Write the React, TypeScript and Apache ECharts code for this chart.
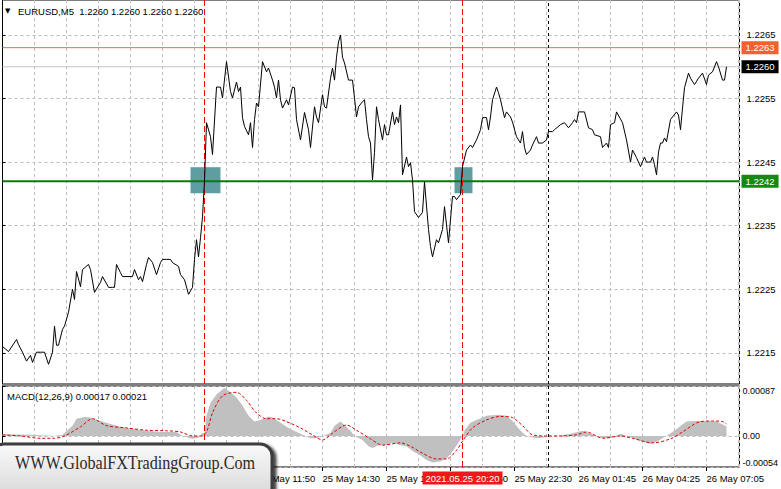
import React, { useEffect, useRef } from 'react';
import * as echarts from 'echarts';

// ---------- data ----------
const symbolName = 'EURUSD,M5';
const lastQuote = [1.226, 1.226, 1.226, 1.226];

// bar number (5-minute bars from the left edge) and close price
const priceBars = [
  0, 3, 7, 8, 10, 12, 14, 15, 17, 19, 21, 23, 25, 26, 27, 28, 30, 31, 33, 35, 36, 37, 39, 40, 43, 44, 46, 49, 50, 53,
  55, 56, 57, 59, 60, 65, 66, 68, 69, 70, 72, 73, 75, 77, 79, 80, 82, 84, 85, 88, 89, 91, 93, 95, 96, 97, 98, 99, 100, 101,
  102, 104, 105, 107, 109, 110, 112, 114, 115, 117, 118, 119, 120, 121, 123, 124, 125, 126, 127, 128, 130, 132, 133, 135, 136, 137, 138, 139, 140, 142,
  143, 145, 146, 147, 149, 151, 153, 154, 156, 157, 158, 160, 161, 162, 164, 165, 166, 167, 168, 169, 170, 171, 173, 175, 176, 177, 178, 180, 181, 182,
  183, 184, 185, 186, 187, 188, 190, 191, 192, 193, 195, 196, 197, 198, 199, 200, 202, 203, 204, 205, 206, 208, 210, 211, 213, 214, 215, 217, 218, 220,
  221, 223, 225, 226, 227, 229, 230, 232, 234, 235, 237, 239, 240, 242, 243, 244, 245, 247, 248, 249, 251, 252, 254, 255, 257, 259, 260, 261, 262, 264,
  265, 267, 268, 270, 272, 273, 275, 276, 279, 281, 283, 285, 286, 287, 288, 291, 293, 295, 296, 299, 300, 302, 303, 304, 306, 307, 310, 312, 314, 315,
  317, 319, 321, 322, 324, 325, 326, 327, 328, 329, 330, 331, 332, 334, 335, 337, 338, 339, 340, 341, 343, 344, 346, 348, 350, 352, 353, 355, 357, 358,
  360, 361, 362,
];
const priceClose = [
  1.2216, 1.22152, 1.22171, 1.22163, 1.22151, 1.22137, 1.22146, 1.22135, 1.22151, 1.22151, 1.22151, 1.22132, 1.22151, 1.22192, 1.22162, 1.22162, 1.22187, 1.22192, 1.22214, 1.2225, 1.22234, 1.22278, 1.22254, 1.22281, 1.22289, 1.22281, 1.22245, 1.22261, 1.2227, 1.22253,
  1.22253, 1.22253, 1.22289, 1.22276, 1.2227, 1.2227, 1.22281, 1.22265, 1.2227, 1.22262, 1.22289, 1.223, 1.22292, 1.22273, 1.22292, 1.22297, 1.22297, 1.22297, 1.22292, 1.22286, 1.22273, 1.22265, 1.22242, 1.22253, 1.22297, 1.22328, 1.22301, 1.22331, 1.22364, 1.2242,
  1.22512, 1.2249, 1.22462, 1.22568, 1.22568, 1.22551, 1.22608, 1.22561, 1.22551, 1.22576, 1.22561, 1.22568, 1.2252, 1.22506, 1.22493, 1.22512, 1.22473, 1.22517, 1.22543, 1.22537, 1.22608, 1.22592, 1.22598, 1.22579, 1.22568, 1.22551, 1.22579, 1.22548, 1.22535, 1.22548,
  1.2254, 1.22568, 1.22567, 1.22517, 1.22485, 1.22528, 1.22501, 1.22473, 1.22537, 1.22521, 1.22512, 1.22556, 1.22537, 1.22535, 1.22582, 1.22598, 1.22579, 1.22615, 1.22639, 1.2265, 1.22615, 1.22606, 1.22579, 1.22579, 1.22551, 1.22521, 1.22537, 1.22545, 1.22548, 1.22517,
  1.2249, 1.2248, 1.22422, 1.22465, 1.22537, 1.22517, 1.22485, 1.22509, 1.22493, 1.22493, 1.22529, 1.22509, 1.22521, 1.22512, 1.2254, 1.2243, 1.22458, 1.22443, 1.22449, 1.22422, 1.22372, 1.22363, 1.22371, 1.22419, 1.22344, 1.22317, 1.22301, 1.22328, 1.22323, 1.22344,
  1.2238, 1.22323, 1.22396, 1.22396, 1.22391, 1.22399, 1.22443, 1.22469, 1.22477, 1.22473, 1.22485, 1.22501, 1.2252, 1.2252, 1.22501, 1.22521, 1.22548, 1.22568, 1.22559, 1.22548, 1.2252, 1.22529, 1.22521, 1.22513, 1.2249, 1.2248, 1.22498, 1.22473, 1.22462, 1.22469,
  1.22477, 1.2249, 1.2248, 1.2248, 1.22485, 1.22498, 1.22498, 1.22501, 1.22509, 1.22512, 1.22504, 1.22512, 1.22517, 1.22512, 1.22529, 1.22529, 1.22504, 1.22501, 1.22493, 1.2249, 1.22473, 1.2248, 1.22473, 1.22509, 1.22512, 1.22529, 1.22512, 1.22485, 1.2245, 1.22469,
  1.22457, 1.22443, 1.22458, 1.2245, 1.2245, 1.22458, 1.22446, 1.2243, 1.22466, 1.2248, 1.2248, 1.22488, 1.22482, 1.22517, 1.22521, 1.22529, 1.22524, 1.22501, 1.22535, 1.22567, 1.2259, 1.22582, 1.22572, 1.22582, 1.2259, 1.22572, 1.22587, 1.22592, 1.22608, 1.226,
  1.22579, 1.22579, 1.226,
];

// MACD main (histogram) and signal values
const macdBars = [
  0, 15, 26, 30, 35, 37, 41, 44, 49, 54, 59, 65, 72, 79, 87, 90, 95, 98, 100, 101, 102, 104, 107, 111, 114, 117, 120, 123, 126, 129,
  133, 135, 139, 143, 147, 150, 154, 157, 160, 164, 166, 169, 171, 174, 176, 180, 183, 185, 188, 192, 195, 199, 202, 205, 209, 212, 215, 219, 222, 225,
  228, 230, 231, 234, 237, 242, 248, 252, 255, 259, 262, 267, 272, 277, 284, 290, 295, 300, 304, 309, 314, 320, 324, 327, 332, 337, 342, 347, 352, 357,
  362,
];
const macdMain = [
  0.00003, 0.00002, 0, 0.00002, 0.00018, 0.0003, 0.00033, 0.00032, 0.00026, 0.00021, 0.00016, 0.00012, 0.00009, 0.00007, 0.00007, 0, -0.00005, -0.00003, 0.00005, 0.00005, 0.00035, 0.00058, 0.00072, 0.00084, 0.00076, 0.00067, 0.00053, 0.00035, 0.00025, 0.00028,
  0.00034, 0.00032, 0.00023, 0.00014, 0.00007, 0.00002, -0.00004, -0.00004, 0, 0.00005, 0.00018, 0.00025, 0.00019, 0.00009, 0, -0.00007, -0.00018, -0.00021, -0.00016, -0.00016, -0.00012, -0.00016, -0.00018, -0.00026, -0.00034, -0.00042, -0.00046, -0.00044, -0.00039, -0.00027,
  -0.00012, 0, 0.0001, 0.00023, 0.00028, 0.00035, 0.00037, 0.00035, 0.00026, 0.00009, 0, -0.00004, -0.00002, 0, 0.00004, 0.00009, 0.00003, -0.00004, -0.00004, 0.00004, -0.00002, -0.0001, -0.00014, -0.0001, 0, 0.00012, 0.00025, 0.00026, 0.00026, 0.00025,
  0.00017,
];
const signalBars = [
  0, 9, 19, 26, 31, 39, 45, 52, 62, 72, 82, 89, 95, 99, 102, 105, 110, 117, 122, 127, 132, 137, 142, 149, 155, 160, 165, 172, 177, 184,
  190, 199, 204, 210, 217, 222, 227, 230, 235, 242, 249, 255, 260, 265, 272, 279, 287, 292, 300, 309, 315, 325, 334, 340, 349, 355, 360, 362,
];
const macdSignal = [
  0.00002, 0, -0.00004, -0.00004, 0, 0.00016, 0.0003, 0.00018, 0.00014, 0.0001, 0.00009, 0.00007, 0, 0, 0.00007, 0.0004, 0.0007, 0.00076, 0.00062, 0.0004, 0.0003, 0.0003, 0.00025, 0.00014, 0.00002, -0.00007, 0.00005, 0.00019, 0.0001, -0.00005,
  -0.00016, -0.00012, -0.00018, -0.0003, -0.0004, -0.0004, -0.00025, -0.00009, 0.00014, 0.00028, 0.00034, 0.00032, 0.00018, 0.00002, 0, 0, 0.00002, 0.00007, -0.00004, 0, -0.00004, -0.00012, -0.00005, 0.00007, 0.00025, 0.00026, 0.00025, 0.00021,
];
const macdReadout = [0.00017, 0.00021];
const macdTicks = [-0.00054, 0, 0.00087];

const priceTicks = [1.2215, 1.2225, 1.2235, 1.2245, 1.2255, 1.2265];
const timeTickBars = [32, 64, 96, 128, 160, 192, 224, 256, 288, 320, 352];
const timeTickLabels = [
  '25 May 03:50', '25 May 06:30', '25 May 09:10', '25 May 11:50', '25 May 14:30', '25 May 17:10',
  '25 May 19:50', '25 May 22:30', '26 May 01:45', '26 May 04:25', '26 May 07:05',
];

const resistanceLevel = 1.2263;
const currentPrice = 1.226;
const supportLevel = 1.2242;
const signalMarkBars = [101, 230];
const signalTimeLabel = '2021.05.25 20:20';
const separatorBar = 273;
const entryZoneBars = [[94, 109], [226, 235]];
const entryZonePrices = [1.22401, 1.22442];

const watermarkText = 'WWW.GlobalFXTradingGroup.Com';

// ---------- axis ranges & styling ----------
const BAR_MAX = 368.5;
const PRICE_MIN = 1.22101;
const PRICE_MAX = 1.22705;
const FONT = 'Liberation Sans';
const GRID_LINE = { color: '#bdbdbd', type: [3, 3] as number[], width: 1 };

function buildOption() {
  const pricePairs = priceBars.map((b, i) => [b, priceClose[i]]);
  const histPairs = macdBars.map((b, i) => [b, macdMain[i]]);
  const sigPairs = signalBars.map((b, i) => [b, macdSignal[i]]);

  const levelSeries = (level: number, color: string, width: number, labelBg: string) => ({
    type: 'line',
    xAxisIndex: 0,
    yAxisIndex: 0,
    z: 2,
    silent: true,
    symbol: 'none',
    data: [
      [0, level],
      [BAR_MAX, level],
    ],
    lineStyle: { color, width, type: 'solid' },
    endLabel: {
      show: true,
      distance: 2,
      color: '#fff',
      backgroundColor: labelBg,
      padding: [2, 4, 1, 4],
      fontSize: 9.5,
      fontFamily: FONT,
      formatter: () => level.toFixed(4),
    },
  });

  const vLine = (bar: number, grid: number, color: string, dash: number[]) => ({
    type: 'line',
    xAxisIndex: grid,
    yAxisIndex: grid,
    z: 2,
    silent: true,
    symbol: 'none',
    data:
      grid === 0
        ? [
            [bar, PRICE_MIN],
            [bar, PRICE_MAX],
          ]
        : [
            [bar, macdTicks[0]],
            [bar, macdTicks[2]],
          ],
    lineStyle: { color, width: 1, type: dash },
  });

  const verticals: any[] = [];
  [0, 1].forEach((g) => {
    signalMarkBars.forEach((b) => verticals.push(vLine(b, g, '#ff0000', [6, 3])));
    verticals.push(vLine(separatorBar, g, '#000000', [3, 3]));
  });

  const baseX = {
    type: 'value',
    min: 0,
    max: BAR_MAX,
    interval: 16,
    axisLine: { show: false },
    axisTick: { show: false },
    axisLabel: { show: false },
    splitLine: { show: true, lineStyle: GRID_LINE },
  };

  return {
    animation: false,
    backgroundColor: '#ffffff',
    textStyle: { fontFamily: FONT },
    grid: [
      { left: 2.5, top: 0, width: 737, height: 384, show: true, borderColor: '#000', borderWidth: 1, containLabel: false, outerBoundsMode: 'none' },
      { left: 2.5, top: 386, width: 737, height: 81, show: true, borderColor: '#000', borderWidth: 1, containLabel: false, outerBoundsMode: 'none' },
    ],
    xAxis: [
      { ...baseX, gridIndex: 0 },
      { ...baseX, gridIndex: 1 },
      {
        type: 'value',
        gridIndex: 1,
        min: 0,
        max: BAR_MAX,
        position: 'bottom',
        axisLine: { show: false },
        axisTick: { show: true, customValues: timeTickBars, length: 4, lineStyle: { color: '#000' } },
        axisLabel: {
          show: true,
          customValues: timeTickBars,
          align: 'left',
          margin: 6,
          color: '#000',
          fontSize: 9.5,
          fontFamily: FONT,
          formatter: (v: number) => {
            const k = timeTickBars.indexOf(Math.round(v));
            return k >= 0 ? timeTickLabels[k] : '';
          },
        },
        splitLine: { show: false },
      },
    ],
    yAxis: [
      {
        type: 'value',
        gridIndex: 0,
        position: 'right',
        min: PRICE_MIN,
        max: PRICE_MAX,
        axisLine: { show: true, lineStyle: { color: '#000' } },
        axisTick: { show: true, customValues: priceTicks, length: 3, lineStyle: { color: '#000' } },
        axisLabel: {
          show: true,
          customValues: priceTicks,
          margin: 7,
          color: '#000',
          fontSize: 9.5,
          fontFamily: FONT,
          formatter: (v: number) => v.toFixed(4),
        },
        splitLine: { show: true, lineStyle: GRID_LINE },
      },
      {
        type: 'value',
        gridIndex: 1,
        position: 'right',
        min: macdTicks[0],
        max: macdTicks[2],
        axisLine: { show: true, lineStyle: { color: '#000' } },
        axisTick: { show: true, customValues: macdTicks, length: 3, lineStyle: { color: '#000' } },
        axisLabel: {
          show: true,
          customValues: macdTicks,
          margin: 3,
          color: '#000',
          fontSize: 9,
          fontFamily: FONT,
          verticalAlignMinLabel: 'bottom',
          verticalAlignMaxLabel: 'top',
          formatter: (v: number) => (v === 0 ? '0.00' : v.toFixed(5)),
        },
        splitLine: { show: true, lineStyle: GRID_LINE },
      },
    ],
    series: [
      {
        name: 'zones',
        type: 'line',
        xAxisIndex: 0,
        yAxisIndex: 0,
        data: [],
        z: 1,
        silent: true,
        markArea: {
          silent: true,
          itemStyle: { color: '#5f9ea0', opacity: 1 },
          data: entryZoneBars.map(([a, b]) => [
            { xAxis: a, yAxis: entryZonePrices[0] },
            { xAxis: b, yAxis: entryZonePrices[1] },
          ]),
        },
      },
      levelSeries(resistanceLevel, '#f26a2e', 1, '#f5612a'),
      levelSeries(currentPrice, '#c4c4c4', 1, '#000000'),
      levelSeries(supportLevel, '#0b7a0b', 2, '#128a12'),
      ...verticals,
      {
        name: 'EURUSD',
        type: 'line',
        xAxisIndex: 0,
        yAxisIndex: 0,
        data: pricePairs,
        z: 3,
        showSymbol: false,
        symbol: 'none',
        lineStyle: { color: '#000', width: 1 },
      },
      {
        name: 'MACD',
        type: 'line',
        xAxisIndex: 1,
        yAxisIndex: 1,
        data: histPairs,
        z: 1,
        showSymbol: false,
        symbol: 'none',
        lineStyle: { width: 0, color: '#c0c0c0' },
        areaStyle: { color: '#c0c0c0', opacity: 1 },
      },
      {
        name: 'Signal',
        type: 'line',
        xAxisIndex: 1,
        yAxisIndex: 1,
        data: sigPairs,
        z: 3,
        showSymbol: false,
        symbol: 'none',
        smooth: 0.3,
        lineStyle: { color: '#e00000', width: 1, type: [3, 2] },
      },
      {
        name: 'signalTime',
        type: 'scatter',
        xAxisIndex: 1,
        yAxisIndex: 1,
        z: 5,
        silent: true,
        clip: false,
        symbol: 'rect',
        symbolSize: 1,
        itemStyle: { color: 'transparent', opacity: 1 },
        emphasis: { disabled: true },
        data: [[signalMarkBars[1], macdTicks[0]]],
        label: {
          show: true,
          position: 'bottom',
          distance: 4,
          opacity: 1,
          color: '#ffffff',
          backgroundColor: '#f01818',
          padding: [2, 3, 1, 3],
          fontSize: 9.5,
          fontFamily: FONT,
          formatter: signalTimeLabel,
        },
      },
    ],
    graphic: [
      {
        type: 'text',
        x: 5,
        y: 11,
        z: 10,
        style: { text: '▼', font: '7px "DejaVu Sans"', fill: '#000', textVerticalAlign: 'middle' },
      },
      {
        type: 'text',
        x: 18,
        y: 11,
        z: 10,
        style: {
          text: `${symbolName}  ${lastQuote.map((q) => q.toFixed(4)).join(' ')}`,
          font: `9.5px "${FONT}"`,
          fill: '#000',
          textVerticalAlign: 'middle',
        },
      },
      {
        type: 'text',
        x: 7,
        y: 396,
        z: 10,
        style: {
          text: `MACD(12,26,9) ${macdReadout.map((q) => q.toFixed(5)).join(' ')}`,
          font: `9.5px "${FONT}"`,
          fill: '#000',
          textVerticalAlign: 'middle',
        },
      },
      {
        type: 'rect',
        z: 100,
        zlevel: 1,
        shape: { x: -8, y: 444, width: 280, height: 56, r: 12 },
        style: {
          fill: new echarts.graphic.LinearGradient(0, 0, 0, 1, [
            { offset: 0, color: '#fafafa' },
            { offset: 1, color: '#d6d6d6' },
          ]),
          stroke: '#3c3c3c',
          lineWidth: 3,
          shadowBlur: 3,
          shadowOffsetX: 3,
          shadowOffsetY: 2,
          shadowColor: 'rgba(0,0,0,0.75)',
        },
      },
      {
        type: 'text',
        z: 101,
        zlevel: 1,
        x: 15,
        y: 463,
        scaleX: 0.85,
        style: {
          text: watermarkText,
          font: '19px "Liberation Serif"',
          fill: '#2b2b2b',
          textVerticalAlign: 'middle',
          shadowBlur: 2,
          shadowColor: 'rgba(0,0,0,0.35)',
          shadowOffsetX: 1,
          shadowOffsetY: 1,
        },
      },
    ],
  };
}

export default function App() {
  const ref = useRef<HTMLDivElement>(null);
  useEffect(() => {
    document.body.style.margin = '0';
    if (!ref.current) return;
    const chart = echarts.init(ref.current, undefined, { renderer: 'svg', width: 781, height: 489 });
    chart.setOption(buildOption() as any);
    return () => chart.dispose();
  }, []);
  return <div ref={ref} style={{ position: 'fixed', left: 0, top: 0, width: 781, height: 489, background: '#fff' }} />;
}
